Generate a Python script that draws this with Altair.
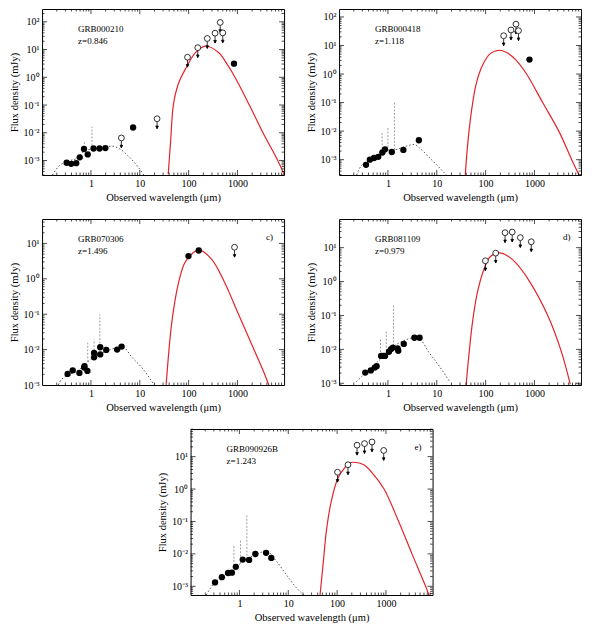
import altair as alt
import pandas as pd

# (wavelength um, flux mJy)
A_DET = [(0.318, 8.3e-4), (0.394, 7.6e-4), (0.50, 8.0e-4), (0.59, 1.3e-3), (0.72, 2.6e-3),
         (0.86, 1.66e-3), (1.13, 2.7e-3), (1.50, 2.7e-3), (1.98, 2.8e-3), (7.3, 0.0155), (850, 3.1)]
A_LIM = [(4.2, 6.5e-3), (22.6, 0.032), (95, 5.3), (154, 11.7), (241, 25), (348, 39), (443, 95), (500, 40)]
A_OPT = [(0.163, 3e-4), (0.222, 6.3e-4), (0.327, 9.3e-4), (0.52, 1.2e-3), (0.73, 2.2e-3), (1.13, 2.6e-3),
         (1.8, 2.8e-3), (2.66, 3.3e-3), (3.9, 2.6e-3), (6.2, 1.3e-3), (9.2, 5.9e-4), (12.1, 3e-4)]
A_FIR = [(38.2, 3.2e-4), (42.6, 4.4e-3), (49, 0.108), (62, 0.6), (87, 2.06), (138, 7.8), (220, 13.4),
         (410, 7.8), (604, 3.1), (890, 1.0), (1750, 0.1), (3325, 0.01), (6680, 1e-3), (9120, 3e-4)]
A_EML = [(0.733, 2.2e-3, 4.6e-3), (1.05, 2.6e-3, 0.0166)]

B_DET = [(0.356, 6.6e-4), (0.427, 1.0e-3), (0.52, 1.14e-3), (0.634, 1.26e-3), (0.77, 1.78e-3),
         (0.87, 2.3e-3), (1.2, 1.86e-3), (2.07, 2.2e-3), (4.3, 4.8e-3), (791, 3.2)]
B_LIM = [(234, 22), (331, 35), (418, 56), (471, 33)]
B_OPT = [(0.229, 2.9e-4), (0.288, 6.3e-4), (0.39, 8.5e-4), (0.61, 1.3e-3), (0.97, 2.0e-3), (1.53, 2.3e-3),
         (2.4, 3.0e-3), (3.5, 3.4e-3), (4.4, 2.6e-3), (7.0, 1.2e-3), (11, 5.5e-4), (15.7, 2.9e-4)]
B_FIR = [(38.4, 2.9e-4), (42, 2.3e-3), (50.5, 0.041), (63.4, 0.42), (86, 2.0), (126, 5.3), (184, 6.8),
         (269, 5.7), (424, 3.0), (689, 1.0), (1473, 0.1), (3150, 0.01), (5785, 1e-3), (8200, 2.9e-4)]
B_EML = [(0.76, 1.8e-3, 9.6e-3), (1.0, 2.0e-3, 0.0134), (1.36, 2.2e-3, 0.1)]

C_DET = [(0.333, 2.06e-3), (0.424, 2.6e-3), (0.581, 2.2e-3), (0.728, 3.1e-3), (0.74, 3.4e-3),
         (0.847, 2.5e-3), (1.16, 8.0e-3), (1.16, 6.05e-3), (1.55, 0.0117), (1.55, 7.3e-3),
         (2.06, 9.8e-3), (3.44, 0.01), (4.25, 0.0122), (99.4, 4.4), (161, 6.3)]
C_LIM = [(871, 7.8)]
C_OPT = [(0.215, 1e-3), (0.232, 1.24e-3), (0.338, 1.9e-3), (0.53, 2.45e-3), (0.834, 4.4e-3), (1.31, 6.7e-3),
         (2.4, 9.8e-3), (3.77, 0.0114), (4.7, 0.0113), (6.9, 6.05e-3), (10.8, 3.2e-3), (19.8, 1e-3)]
C_FIR = [(34.6, 1e-3), (42.1, 0.024), (49, 0.13), (61.3, 0.71), (83, 2.8), (121, 5.3), (163, 6.6),
         (299, 3.5), (546, 0.79), (998, 0.117), (1825, 0.0174), (3337, 2.6e-3), (4380, 1e-3)]
C_EML = [(0.86, 4.5e-3, 0.0157), (1.16, 6.0e-3, 0.0194), (1.52, 7.5e-3, 0.1)]

D_DET = [(0.344, 2.07e-3), (0.447, 2.4e-3), (0.536, 2.9e-3), (0.587, 3.2e-3), (0.726, 6.4e-3),
         (0.80, 6.4e-3), (0.873, 6.4e-3), (1.05, 8.5e-3), (1.16, 0.0102), (1.26, 0.0113),
         (1.58, 0.0106), (1.63, 9.1e-3), (2.11, 0.0145), (3.48, 0.022), (4.44, 0.022)]
D_LIM = [(99, 4.1), (161, 6.9), (250, 27.6), (350, 28.8), (513, 19.8), (860, 14.9)]
D_OPT = [(0.225, 1.1e-3), (0.344, 2.0e-3), (0.705, 5.2e-3), (1.11, 0.0102), (2.05, 0.0177), (3.48, 0.022),
         (4.4, 0.0206), (6.9, 8.2e-3), (10.9, 3.4e-3), (18.6, 1.1e-3)]
D_FIR = [(39.8, 8.9e-4), (46.3, 8.9e-3), (54, 0.065), (67.7, 0.47), (91.8, 2.23), (124, 5.4), (190, 7.0),
         (267, 6.0), (421, 3.5), (797, 1.0), (1871, 0.1), (3435, 0.01), (5420, 9.3e-4)]
D_EML = [(0.705, 5.2e-3, 0.022), (0.927, 7e-3, 0.034), (1.3, 0.01, 0.21)]

E_DET = [(0.317, 1.32e-3), (0.437, 1.91e-3), (0.585, 2.58e-3), (0.703, 2.64e-3), (0.845, 4.0e-3),
         (1.17, 6.67e-3), (1.58, 6.5e-3), (2.12, 9.9e-3), (3.51, 0.0108), (4.49, 7.5e-3)]
E_LIM = [(102, 3.3), (167, 5.6), (256, 22.5), (364, 25.2), (518, 28.3), (899, 15.5)]
E_OPT = [(0.21, 5.4e-4), (0.264, 9.5e-4), (0.418, 1.9e-3), (0.77, 3.4e-3), (1.22, 6.1e-3), (2.25, 9.7e-3),
         (3.57, 0.0122), (5.65, 6.1e-3), (8.9, 2.4e-3), (14.2, 9.5e-4), (20.8, 5.4e-4)]
E_FIR = [(44.7, 5.4e-4), (52, 5.4e-3), (60.7, 0.055), (76.4, 0.44), (104, 2.2), (141, 4.45), (177, 6.3),
         (223, 6.7), (353, 5.6), (560, 2.8), (914, 1.0), (1820, 0.1), (3410, 0.01), (6490, 1e-3),
         (7570, 5.4e-4)]
E_EML = [(0.77, 3.4e-3, 0.018), (1.05, 5e-3, 0.0255), (1.42, 6.8e-3, 0.163)]

XDOM = [0.1, 9000]
W, H = 242, 166
FONT = "Liberation Serif"
RED = "#e3242b"
# circle with a downward arrow below it (upper limits)
ARROW = "M0,1 L0,3.4 M-0.45,2.5 L0,3.4 L0.45,2.5 Z"
YLAB = "'10' + ['⁻³','⁻²','⁻¹','⁰','¹','²'][round(log(datum.value)/LN10)+3]"


def df(rows, cols=("x", "y")):
    return pd.DataFrame(rows, columns=list(cols))


def panel(name, z, tag, det, lim, opt, fir, eml, ydom):
    xs = alt.Scale(type="log", domain=XDOM)
    ys = alt.Scale(type="log", domain=ydom)
    decades = [1e-3, 1e-2, 1e-1, 1, 10, 100]
    yvals = [v for v in decades if ydom[0] <= v <= ydom[1]]
    X = alt.X("x:Q", scale=xs, title="Observed wavelength (μm)",
              axis=alt.Axis(values=[1, 10, 100, 1000], format="d"))
    Y = alt.Y("y:Q", scale=ys, title="Flux density (mJy)",
              axis=alt.Axis(values=yvals, labelExpr=YLAB))

    layers = [
        alt.Chart(df(opt)).mark_line(color="#444", strokeWidth=0.9, strokeDash=[1.5, 2],
                                     interpolate="monotone", clip=True).encode(x=X, y=Y),
        alt.Chart(df(eml, ("x", "y", "y2"))).mark_rule(color="#888", strokeWidth=0.8,
                                                       strokeDash=[2, 1.5]).encode(x=X, y=Y, y2="y2:Q"),
        alt.Chart(df(fir)).mark_line(color=RED, strokeWidth=1.2, interpolate="catmull-rom",
                                     clip=True).encode(x=X, y=Y),
        alt.Chart(df(lim)).mark_point(shape=ARROW, size=34, filled=True, fill="black", stroke="black",
                                      strokeWidth=0.8, opacity=1).encode(x=X, y=Y),
        alt.Chart(df(lim)).mark_point(shape="circle", size=34, filled=True, fill="white", stroke="black",
                                      strokeWidth=0.8, opacity=1).encode(x=X, y=Y),
        alt.Chart(df(det)).mark_circle(size=40, color="black", opacity=1).encode(x=X, y=Y),
    ]
    for txt, px, py in [(name, 36, 20), (z, 36, 32), (tag, 224, 18)]:
        if txt:
            layers.append(
                alt.Chart(pd.DataFrame({"t": [txt]})).mark_text(
                    align="left", baseline="middle", font=FONT, fontSize=9, color="black"
                ).encode(text="t:N", x=alt.value(px), y=alt.value(py))
            )

    # inward ticks on all four sides, as in the original frame
    xmaj = [1, 10, 100, 1000]
    xmin = [k * 10.0 ** n for n in range(-1, 4) for k in range(2, 10) if XDOM[0] < k * 10.0 ** n < XDOM[1]]
    ymin = [k * 10.0 ** n for n in range(-4, 3) for k in range(2, 10) if ydom[0] < k * 10.0 ** n < ydom[1]]
    ymaj = [v for v in yvals if ydom[0] < v < ydom[1]]
    for vals, L in [(xmaj, 5), (xmin, 2.5)]:
        base = alt.Chart(pd.DataFrame({"x": vals})).mark_rule(color="black", strokeWidth=0.7)
        layers.append(base.encode(x=X, y=alt.value(H), y2=alt.value(H - L)))
        layers.append(base.encode(x=X, y=alt.value(0), y2=alt.value(L)))
    for vals, L in [(ymaj, 5), (ymin, 2.5)]:
        base = alt.Chart(pd.DataFrame({"y": vals})).mark_rule(color="black", strokeWidth=0.7)
        layers.append(base.encode(y=Y, x=alt.value(0), x2=alt.value(L)))
        layers.append(base.encode(y=Y, x=alt.value(W), x2=alt.value(W - L)))

    return alt.layer(*layers).properties(width=W, height=H)


pa = panel("GRB000210", "z=0.846", "", A_DET, A_LIM, A_OPT, A_FIR, A_EML, [3e-4, 290])
pb = panel("GRB000418", "z=1.118", "", B_DET, B_LIM, B_OPT, B_FIR, B_EML, [2.9e-4, 190])
pc = panel("GRB070306", "z=1.496", "c)", C_DET, C_LIM, C_OPT, C_FIR, C_EML, [1e-3, 49])
pd_ = panel("GRB081109", "z=0.979", "d)", D_DET, D_LIM, D_OPT, D_FIR, D_EML, [8.9e-4, 70])
pe = panel("GRB090926B", "z=1.243", "e)", E_DET, E_LIM, E_OPT, E_FIR, E_EML, [5.4e-4, 71])

chart = alt.vconcat(
    alt.hconcat(pa, pb, spacing=20),
    alt.hconcat(pc, pd_, spacing=20),
    pe,
    spacing=15,
    center=True,
).properties(
    padding=0
).configure_view(
    stroke="black", strokeWidth=1
).configure_axis(
    ticks=False, domain=False, grid=False,
    labelFont=FONT, labelFontSize=10, labelColor="black", labelPadding=3,
    titleFont=FONT, titleFontSize=10.5, titleColor="black", titleFontWeight="normal", titlePadding=4,
)

chart.save("out.html", embed_options={"renderer": "svg", "actions": False})
